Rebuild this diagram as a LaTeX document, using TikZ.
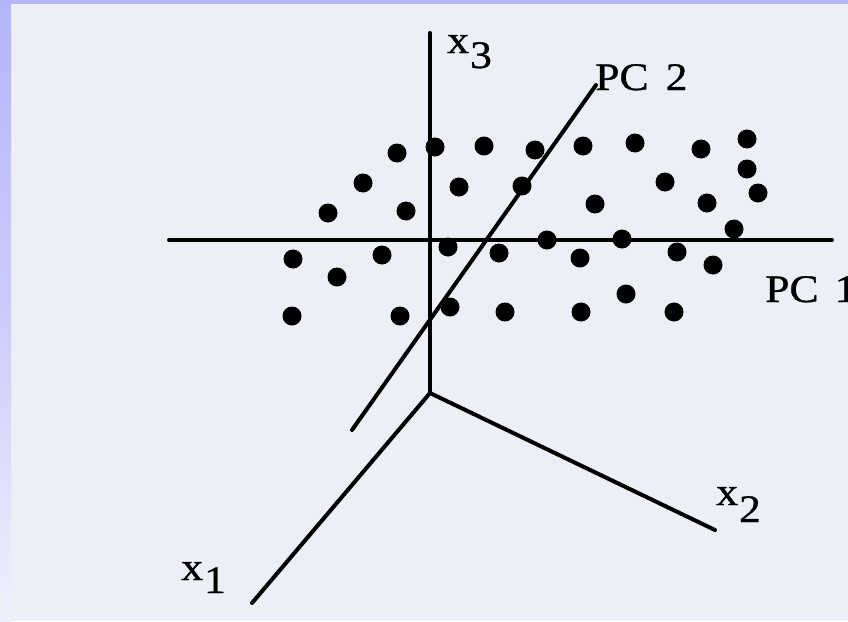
\documentclass[tikz,border=0pt]{standalone}
\usepackage{fontspec}
\newfontfamily\labfont[FakeStretch=1.12,FakeBold=0.8]{Liberation Serif}
\definecolor{pagebg}{HTML}{EDEFF7}
\definecolor{lav}{HTML}{B4B4FA}
\definecolor{lavlight}{HTML}{F0F0FC}
\begin{document}
\begin{tikzpicture}[x=1pt,y=-1pt,
  axisline/.style={line width=4pt,line cap=round,black},
  dot/.style={circle,fill=black,inner sep=0pt,minimum size=19pt},
  lab/.style={inner sep=0pt,anchor=base west,font=\labfont\fontsize{39}{39}\selectfont}]
\useasboundingbox (0,0) rectangle (848,621);
\fill[pagebg] (0,0) rectangle (848,621);
\shade[top color=lav,bottom color=lavlight,middle color=lav!60!lavlight] (0,0) rectangle (11,621);
\fill[lav] (0,0) rectangle (848,4);
% axes
\coordinate (O) at (430,393);
\coordinate (x3end) at (430,33);
\coordinate (x1end) at (252,603);
\coordinate (x2end) at (715,530);
\coordinate (pc1a) at (169,240);
\coordinate (pc1b) at (832,240);
\coordinate (pc2a) at (352,430);
\coordinate (pc2b) at (596,85);
\draw[axisline] (O) -- (x3end);
\draw[axisline] (O) -- (x1end);
\draw[axisline] (O) -- (x2end);
\draw[axisline] (pc1a) -- (pc1b);
\draw[axisline] (pc2a) -- (pc2b);
% labels
\node[lab] (lx3) at (447,53) {x\hspace{1pt}\raisebox{-15pt}{3}};
\node[lab] (lpc2) at (595,90) {PC\hspace{17pt}2};
\node[lab] (lpc1) at (765,302) {PC\hspace{16pt}1};
\node[lab] (lx2) at (716,505) {x\hspace{1pt}\raisebox{-17pt}{2}};
\node[lab] (lx1) at (181,580) {x\hspace{1pt}\raisebox{-13pt}{1}};
% data points
\foreach \px/\py [count=\i] in {
 435/147, 484/146, 535/150, 583/146, 635/143, 701/149, 747/139,
 459/187, 522/186, 665/182, 747/169, 595/204, 707/203, 758/193, 734/229,
 448/247, 499/253, 547/240, 622/239, 580/258, 677/252, 713/265, 626/294,
 450/307, 505/312, 581/312, 674/312,
 397/153, 363/183, 328/213, 406/211, 293/259, 382/255, 337/277, 292/316, 400/316}
  \node[dot] (p\i) at (\px,\py) {};
\end{tikzpicture}
\end{document}
